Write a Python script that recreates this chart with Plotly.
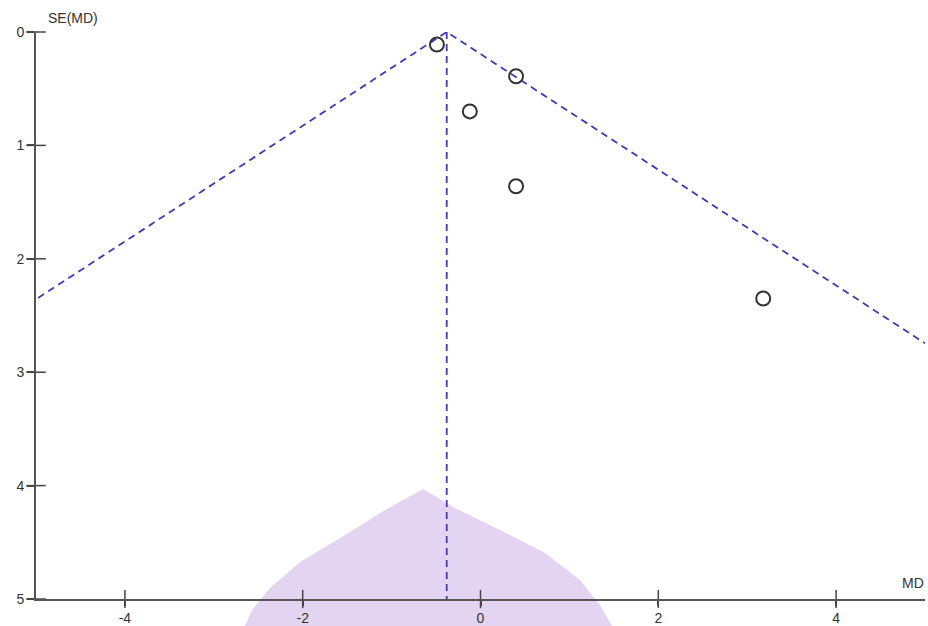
import plotly.graph_objects as go

# Study data (mean difference, standard error)
study_md = [-0.49, 0.40, -0.12, 0.40, 3.18]
study_se = [0.11, 0.39, 0.70, 1.36, 2.35]
pooled_md = -0.38
se_max = 5
x_range = [-5, 5]
x_ticks = [-4, -2, 0, 2, 4]
x_tick_labels = ["-4", "-2", "0", "2", "4"]
y_ticks = [0, 1, 2, 3, 4, 5]

W, H = 928, 626
ML, MR, MT, MB = 36, 3, 32, 27
PW, PH = W - ML - MR, H - MT - MB


def px(xp, yp):
    return (xp - ML) / PW, (H - MB - yp) / PH


fig = go.Figure()

# faint watermark dome (background decoration)
dome = [(423, 489), (385, 510), (345, 535), (300, 562), (270, 588), (252, 610), (245, 626),
        (612, 626), (600, 605), (580, 580), (545, 553), (500, 530), (455, 508)]
pts = [px(a, b) for a, b in dome]
path = "M " + " L ".join(f"{a:.4f},{b:.4f}" for a, b in pts) + " Z"
fig.add_shape(type="path", path=path, xref="paper", yref="paper",
              fillcolor="#e3d5f1", line=dict(width=0), layer="below")

# funnel (pseudo 95% confidence limits)
fig.add_trace(go.Scatter(
    x=[pooled_md - 1.96 * se_max, pooled_md, pooled_md + 1.96 * se_max],
    y=[se_max, 0, se_max], mode="lines",
    line=dict(color="#3c3cb0", width=1.8, dash="7px,5px"),
    hoverinfo="skip", showlegend=False))
fig.add_trace(go.Scatter(
    x=[pooled_md, pooled_md], y=[0, se_max], mode="lines",
    line=dict(color="#3c3cb0", width=1.8, dash="7px,5px"),
    hoverinfo="skip", showlegend=False))
fig.add_trace(go.Scatter(
    x=study_md, y=study_se, mode="markers",
    marker=dict(symbol="circle-open", size=14, color="#333333",
                line=dict(width=2, color="#333333")),
    showlegend=False))

# tick marks crossing the axis lines
fig.add_trace(go.Scatter(
    x=x_ticks, y=[se_max] * len(x_ticks), mode="markers", cliponaxis=False,
    marker=dict(symbol="line-ns-open", size=13, color="#444444",
                line=dict(width=1.5, color="#444444")),
    hoverinfo="skip", showlegend=False))
fig.add_trace(go.Scatter(
    x=[x_range[0]] * len(y_ticks), y=y_ticks, mode="markers", cliponaxis=False,
    marker=dict(symbol="line-ew-open", size=14, color="#444444",
                line=dict(width=1.5, color="#444444")),
    hoverinfo="skip", showlegend=False))

axis_font = dict(family="Liberation Sans, Arial, sans-serif", size=14, color="#333333")

fig.update_layout(
    width=W, height=H,
    margin=dict(l=ML, r=MR, t=MT, b=MB, autoexpand=False),
    paper_bgcolor="white", plot_bgcolor="rgba(0,0,0,0)",
    font=axis_font,
    xaxis=dict(range=x_range, tickvals=x_ticks, ticktext=x_tick_labels,
               ticks="outside", ticklen=5, automargin=False,
               tickwidth=1.5, tickcolor="#444444", showline=True, linecolor="#555555",
               linewidth=2, showgrid=False, zeroline=False, tickfont=axis_font),
    yaxis=dict(range=[se_max, 0], tickvals=y_ticks, ticks="outside", ticklen=7,
               automargin=False,
               tickwidth=1.5, tickcolor="#444444", showline=True, linecolor="#555555",
               linewidth=2, showgrid=False, zeroline=False, tickfont=axis_font),
)

fig.add_annotation(text="SE(MD)", xref="paper", yref="paper",
                   x=px(46, 0)[0], y=px(0, 18)[1], xanchor="left", yanchor="middle",
                   showarrow=False, font=axis_font)
fig.add_annotation(text="MD", xref="paper", yref="paper",
                   x=px(926, 0)[0], y=px(0, 583)[1], xanchor="right", yanchor="middle",
                   showarrow=False, font=axis_font)

fig.write_html("out.html", config={"displayModeBar": False},
               post_script="document.body.style.margin='0';document.body.style.overflow='hidden';")
